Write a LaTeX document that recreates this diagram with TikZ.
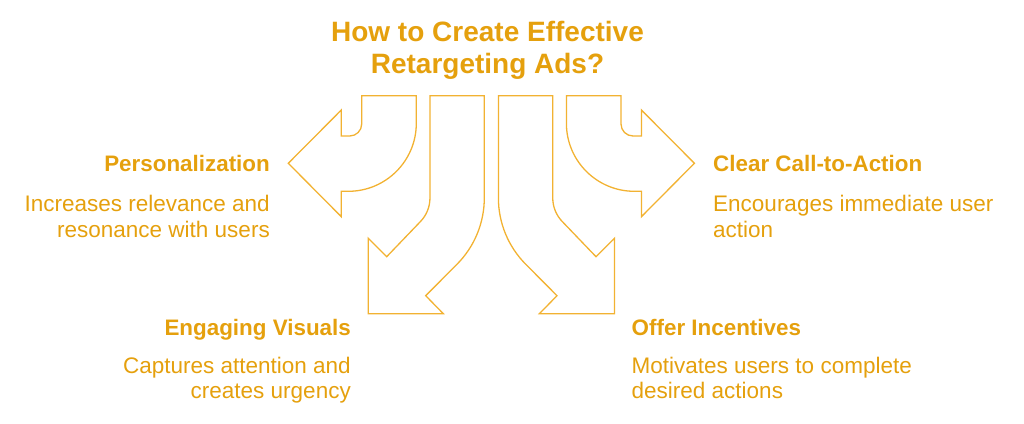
\documentclass[tikz,border=0pt]{standalone}
\usepackage{fontspec}
\setmainfont{Liberation Sans}
\usepackage{tikz}
\definecolor{gold}{RGB}{229,160,13}
\definecolor{lightgold}{RGB}{242,178,50}

\begin{document}
\begin{tikzpicture}[x=1pt,y=-1pt,
		head/.style={inner sep=0pt, text=gold, font=\fontsize{22.4}{25.5}\selectfont\bfseries},
		txt/.style={inner sep=0pt, text=gold, font=\fontsize{22.5}{25.5}\selectfont},
		arrowline/.style={draw=lightgold, line width=1.3pt, line join=miter}]
						\useasboundingbox (0,0) rectangle (1024,423);

						\node[inner sep=0pt, text=gold, align=center, anchor=base,
							font=\fontsize{28}{31.6}\selectfont\bfseries] (title) at (487.5,73.3)
							{How to Create Effective\\Retargeting Ads?};

						\node[head, anchor=base east] (tl) at (270,171) {Personalization};
						\node[txt, align=right, anchor=base east] (tld) at (270,237) {Increases relevance and\\resonance with users};

						\node[head, anchor=base west] (tr) at (713,171) {Clear Call-to-Action};
						\node[txt, align=left, anchor=base west] (trd) at (713,237) {Encourages immediate user\\action};

						\node[head, anchor=base east] (bl) at (351,335) {Engaging Visuals};
						\node[txt, align=right, anchor=base east] (bld) at (351,398.8) {Captures attention and\\creates urgency};

						\node[head, anchor=base west] (br) at (631.5,335) {Offer Incentives};
						\node[txt, align=left, anchor=base west] (brd) at (631.5,398.8) {Motivates users to complete\\desired actions};

						\draw[arrowline] (361.7,95.7) -- (416.3,95.7) -- (416.3,123.3)
							arc[start angle=0, end angle=90, radius=68] -- (341.3,191.3) -- (341.3,216.7)
							-- (288.3,163.3) -- (341.3,110) -- (341.3,136) -- (349.7,136)
							arc[start angle=90, end angle=0, radius=12] -- cycle;

						\draw[arrowline] (430,95.7) -- (484.3,95.7) -- (484.3,198)
							arc[start angle=0, end angle=45, radius=94] -- (425.7,295.7) -- (443.3,313.7)
							-- (368.3,313.7) -- (368.3,238.3) -- (386.7,256.7) -- (420,222)
							arc[start angle=45, end angle=0, radius=34] -- cycle;

						\draw[arrowline] (552.7,95.7) -- (498.4,95.7) -- (498.4,198)
							arc[start angle=180, end angle=135, radius=94] -- (557,295.7) -- (539.4,313.7)
							-- (614.4,313.7) -- (614.4,238.3) -- (596,256.7) -- (562.7,222)
							arc[start angle=135, end angle=180, radius=34] -- cycle;

						\draw[arrowline] (621,95.7) -- (566.4,95.7) -- (566.4,123.3)
							arc[start angle=180, end angle=90, radius=68] -- (641.4,191.3) -- (641.4,216.7)
							-- (694.4,163.3) -- (641.4,110) -- (641.4,136) -- (633,136)
							arc[start angle=90, end angle=180, radius=12] -- cycle;

					\end{tikzpicture}
\end{document}
